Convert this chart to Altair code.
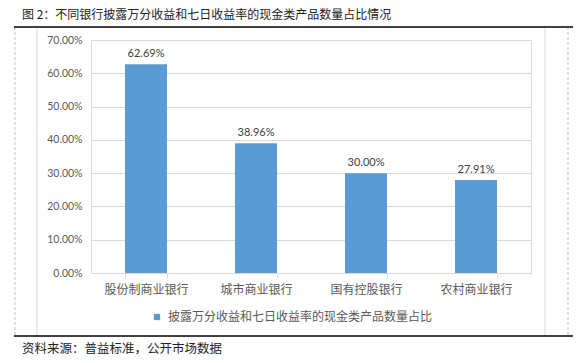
import altair as alt
import pandas as pd

categories = ["股份制商业银行", "城市商业银行", "国有控股银行", "农村商业银行"]
values = [0.6269, 0.3896, 0.3000, 0.2791]
series_name = "披露万分收益和七日收益率的现金类产品数量占比"
title_text = "图 2：不同银行披露万分收益和七日收益率的现金类产品数量占比情况"
source_text = "资料来源：普益标准，公开市场数据"
y_ticks = [0.0, 0.1, 0.2, 0.3, 0.4, 0.5, 0.6, 0.7]

df = pd.DataFrame({"cat": categories, "val": values, "series": [series_name] * 4})

W, H = 440, 233
CJK = "Noto Sans CJK SC"
NUM = "Lato"

x_scale = alt.Scale(paddingInner=0.618, paddingOuter=0.309)
y_scale = alt.Scale(domain=[0, 0.7], nice=False)

x_axis = alt.Axis(labelAngle=0, labelFont=CJK, labelFontSize=12, labelColor="#595959",
                  labelPadding=6, domainColor="#d9d9d9", tickColor="#d9d9d9",
                  tickSize=5, tickBand="extent", grid=False)
y_axis = alt.Axis(values=y_ticks, format=".2%", labelFont=NUM, labelFontSize=10.5,
                  labelColor="#595959", domain=False, ticks=False, labelPadding=9,
                  labelOverlap=False, gridColor="#d9d9d9", gridWidth=1, tickCount=8)

x = alt.X("cat:N", sort=categories, title=None, scale=x_scale, axis=x_axis)
y = alt.Y("val:Q", title=None, scale=y_scale, axis=y_axis)

bars = alt.Chart(df).mark_bar(color="#5B9BD5").encode(
    x=x, y=y,
    color=alt.Color("series:N", scale=alt.Scale(range=["#5B9BD5"]), title=None,
                    legend=alt.Legend(orient="none", legendX=60, legendY=271,
                                      symbolType="square", symbolSize=40,
                                      labelFont=CJK, labelFontSize=12, labelColor="#595959",
                                      labelOffset=5, labelLimit=400)),
)

labels = alt.Chart(df).mark_text(dy=-10, font=NUM, fontSize=11, color="#404040").encode(
    x=x, y=y,
    text=alt.Text("val:Q", format=".2%")
)

def hrule(x1, x2, yv, color, width, dash=None):
    kw = dict(color=color, strokeWidth=width)
    if dash:
        kw["strokeDash"] = dash
    return alt.Chart(df.head(1)).mark_rule(**kw).encode(
        x=alt.value(x1), x2=alt.value(x2), y=alt.value(yv))

def vrule(xv, y1, y2, color, width, dash=None):
    kw = dict(color=color, strokeWidth=width)
    if dash:
        kw["strokeDash"] = dash
    return alt.Chart(df.head(1)).mark_rule(**kw).encode(
        x=alt.value(xv), y=alt.value(y1), y2=alt.value(y2))

deco = [
    vrule(-76, -13, 296, "#c0c0c0", 1, [3, 2]),
    vrule(477, -13, 296, "#c0c0c0", 1, [3, 2]),
    vrule(-54, -13, 296, "#d9d9d9", 1),
    vrule(454, -13, 296, "#d9d9d9", 1),
    hrule(-77, 482, -13, "#000000", 1.5),
    hrule(-77, 482, 296, "#000000", 1.5),
]

title = alt.Chart(df.head(1)).mark_text(align="left", baseline="top", font=CJK,
                                        fontSize=12, color="#222222").encode(
    x=alt.value(-69), y=alt.value(-30), text=alt.value(title_text))
source = alt.Chart(df.head(1)).mark_text(align="left", baseline="middle", font=CJK,
                                         fontSize=12.5, color="#222222").encode(
    x=alt.value(-69), y=alt.value(308.5), text=alt.value(source_text))

chart = alt.layer(bars, labels, *deco, title, source).properties(
    width=W, height=H,
    autosize=alt.AutoSizeParams(type="none"),
    padding={"left": 83, "top": 32, "right": 47, "bottom": 82},
).configure_view(strokeOpacity=0, strokeWidth=0).configure(background="white")

chart.save("out.html", embed_options={"renderer": "svg", "actions": False})
